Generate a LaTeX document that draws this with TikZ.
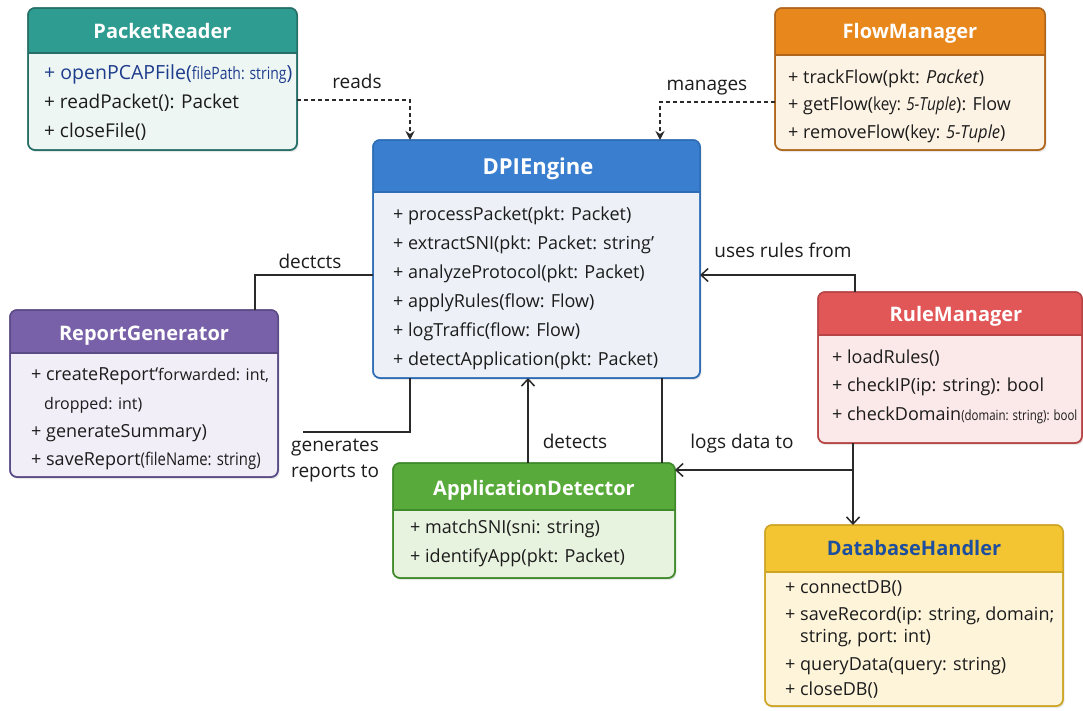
\documentclass[tikz,border=0pt]{standalone}
\usepackage{fontspec}
\setmainfont{Open Sans}
\usepackage{graphicx}
\usetikzlibrary{arrows.meta,calc,shadows}

\definecolor{prH}{HTML}{2E9C90}\definecolor{prB}{HTML}{EEF6F4}\definecolor{prL}{HTML}{256F67}\definecolor{prBlue}{HTML}{1E3C8C}
\definecolor{fmH}{HTML}{E8871C}\definecolor{fmB}{HTML}{FDF3E4}\definecolor{fmL}{HTML}{B0661A}
\definecolor{dpiH}{HTML}{3A7ECF}\definecolor{dpiB}{HTML}{EDF1F7}\definecolor{dpiL}{HTML}{2E6DB5}
\definecolor{rgH}{HTML}{7861A8}\definecolor{rgB}{HTML}{F1EEF7}\definecolor{rgL}{HTML}{5A4A86}
\definecolor{rmH}{HTML}{E15757}\definecolor{rmB}{HTML}{FBE8E8}\definecolor{rmL}{HTML}{B84545}
\definecolor{adH}{HTML}{58AA3A}\definecolor{adB}{HTML}{E8F3DF}\definecolor{adL}{HTML}{3F8A2A}
\definecolor{dbH}{HTML}{F3C532}\definecolor{dbB}{HTML}{FDF4DA}\definecolor{dbL}{HTML}{CFA525}\definecolor{dbTitle}{HTML}{1E4F9E}
\definecolor{lin}{HTML}{2A2A2A}\definecolor{txt}{HTML}{1C1C1C}

\tikzset{
  boxbody/.style={rectangle, rounded corners=7pt, inner sep=0pt, outer sep=0pt, line width=1.5pt,
    drop shadow={opacity=0.18, shadow xshift=1.5pt, shadow yshift=-2pt}},
  ttl/.style={font=\fontsize{20}{24}\bfseries\selectfont, text=white, inner sep=0pt, anchor=base},
  op/.style={font=\fontsize{18}{21}\selectfont, text=txt, anchor=base west, inner sep=0pt},
  lbl/.style={font=\fontsize{19}{22}\selectfont, text=txt, inner sep=0pt, anchor=base},
  conn/.style={draw=lin, line width=1.5pt},
  dconn/.style={conn, dash pattern=on 4pt off 3pt, -{Stealth[length=9pt,width=9pt]}},
  arr/.style={-{Straight Barb[length=7pt,width=13pt,line width=1.5pt]}}
}
\newcommand\sm[3]{{\fontsize{#1}{20}\selectfont\scalebox{#2}[1]{#3}}}
\newcommand\umlbox[9]{%
  \node[boxbody, fill=#8, draw=#9, minimum width={(#4)-(#2)}, minimum height={(#5)-(#3)}]
    (#1) at ({((#2)+(#4))/2},{((#3)+(#5))/2}) {};
  \fill[#7, rounded corners=7pt] (#2,#3) rectangle (#4,#6);
  \fill[#7] (#2,{(#3)+12}) rectangle (#4,#6);
  \draw[#9, line width=1.2pt] (#2,#6) -- (#4,#6);
  \draw[#9, line width=1.5pt, rounded corners=7pt] (#1.north west) rectangle (#1.south east);
}

\begin{document}
\begin{tikzpicture}[x=1pt,y=-1pt]
\useasboundingbox[fill=white] (0,0) rectangle (1083,710);

% PacketReader
\umlbox{pr}{28}{8}{297}{150}{53}{prH}{prB}{prL}
\node[ttl] (pr-t) at (162.5,38) {PacketReader};
\node[op, text=prBlue, font=\fontsize{19.5}{21}\selectfont] (pr-1) at (44,79) {+ openPCAPFile(\sm{17}{0.82}{filePath: string})};
\node[op, font=\fontsize{19}{21}\selectfont] (pr-2) at (44,108) {+ readPacket(): Packet};
\node[op, font=\fontsize{19}{21}\selectfont] (pr-3) at (44,137) {+ closeFile()};

% FlowManager
\umlbox{fm}{775}{8}{1045}{150}{55}{fmH}{fmB}{fmL}
\node[ttl] (fm-t) at (910,38) {FlowManager};
\node[op] (fm-1) at (788,83) {+ trackFlow(pkt: \textit{Packet})};
\node[op] (fm-2) at (788,110) {+ getFlow(\scalebox{0.85}[1]{key: \textit{5-Tuple}}): Flow};
\node[op] (fm-3) at (788,138) {+ removeFlow(\scalebox{0.92}[1]{key: \textit{5-Tuple}})};

% DPIEngine
\umlbox{dpi}{373}{140}{700}{378}{192}{dpiH}{dpiB}{dpiL}
\node[ttl, font=\fontsize{22}{26}\bfseries\selectfont] (dpi-t) at (538,174) {DPIEngine};
\node[op] (dpi-1) at (393,220) {+ processPacket(pkt: Packet)};
\node[op] (dpi-2) at (393,249) {+ extractSNI(pkt: Packet: string’};
\node[op] (dpi-3) at (393,278) {+ analyzeProtocol(pkt: Packet)};
\node[op] (dpi-4) at (393,307) {+ applyRules(flow: Flow)};
\node[op] (dpi-5) at (393,336) {+ logTraffic(flow: Flow)};
\node[op] (dpi-6) at (393,365) {+ detectApplication(pkt: Packet)};

% ReportGenerator
\umlbox{rg}{10}{310}{278}{477}{353}{rgH}{rgB}{rgL}
\node[ttl] (rg-t) at (144,340) {ReportGenerator};
\node[op] (rg-1) at (31,380) {+ createReport‘{\fontsize{16}{20}\selectfont forwarded: int,}};
\node[op, font=\fontsize{16}{20}\selectfont] (rg-2) at (44,409) {dropped: int)};
\node[op] (rg-3) at (31,437) {+ generateSummary)};
\node[op] (rg-4) at (31,465) {+ saveReport\sm{17.5}{0.85}{(fileName: string)}};

% RuleManager
\umlbox{rm}{818}{292}{1082}{443}{335}{rmH}{rmB}{rmL}
\node[ttl] (rm-t) at (956,321) {RuleManager};
\node[op] (rm-1) at (832,363) {+ loadRules()};
\node[op] (rm-2) at (832,391) {+ checkIP(ip: string): bool};
\node[op] (rm-3) at (832,420) {+ checkDomain\sm{14}{0.82}{(domain: string): bool}};

% ApplicationDetector
\umlbox{ad}{393}{463}{675}{578}{510}{adH}{adB}{adL}
\node[ttl] (ad-t) at (534,495) {ApplicationDetector};
\node[op] (ad-1) at (410,533) {+ matchSNI(sni: string)};
\node[op] (ad-2) at (410,562) {+ identifyApp(pkt: Packet)};

% DatabaseHandler
\umlbox{db}{765}{525}{1063}{706}{572}{dbH}{dbB}{dbL}
\node[ttl, text=dbTitle] (db-t) at (914,555) {DatabaseHandler};
\node[op] (db-1) at (785,593) {+ connectDB()};
\node[op] (db-2) at (785,620) {+ saveRecord(ip: string, domain;};
\node[op] (db-3) at (800,642) {string, port: int)};
\node[op] (db-4) at (785,670) {+ queryData(query: string)};
\node[op] (db-5) at (785,695) {+ closeDB()};

% connector attachment points
\coordinate (pr-out) at ($(pr.north east)+(0,92)$);
\coordinate (dpi-in1) at ($(dpi.north west)+(37,0)$);
\coordinate (fm-out) at ($(fm.north west)+(0,94)$);
\coordinate (dpi-in2) at ($(dpi.north east)+(-40,0)$);
\coordinate (rm-top) at ($(rm.north west)+(37,0)$);
\coordinate (dpi-r) at ($(dpi.north east)+(0,135)$);
\coordinate (rg-top) at ($(rg.north west)+(245,0)$);
\coordinate (dpi-l) at ($(dpi.north west)+(0,135)$);
\coordinate (dpi-b1) at ($(dpi.south west)+(37,0)$);
\coordinate (gen-end) at (303,432);
\coordinate (ad-top) at ($(ad.north west)+(135,0)$);
\coordinate (dpi-b2) at ($(dpi.south west)+(289,0)$);
\coordinate (rm-bot) at ($(rm.south west)+(35,0)$);
\coordinate (ad-r) at ($(ad.north east)+(0,7)$);

% connectors
\draw[dconn] (pr-out) -| (dpi-in1);
\draw[dconn] (fm-out) -| (dpi-in2);
\draw[conn, arr] (rm-top) |- (dpi-r);
\draw[conn] (rg-top) |- (dpi-l);
\draw[conn] (dpi-b1) |- (gen-end);
\draw[conn, arr] (ad-top) -- (ad-top |- dpi.south);
\draw[conn] (dpi-b2) -- (dpi-b2 |- ad.north);
\draw[conn, arr] (rm-bot) |- (ad-r);
\draw[conn, arr] (rm-bot) -- (rm-bot |- db.north);

% labels
\node[lbl] (l-reads) at (357,88) {reads};
\node[lbl] (l-manages) at (707,90) {manages};
\node[lbl] (l-uses) at (783,257) {uses rules from};
\node[lbl] (l-dectcts) at (310,268) {dectcts};
\node[lbl, anchor=base west] (l-gen1) at (291,451) {generates};
\node[lbl, anchor=base west] (l-gen2) at (291,477) {reports to};
\node[lbl] (l-detects) at (575,448) {detects};
\node[lbl] (l-logs) at (742,448) {logs data to};
\end{tikzpicture}
\end{document}
